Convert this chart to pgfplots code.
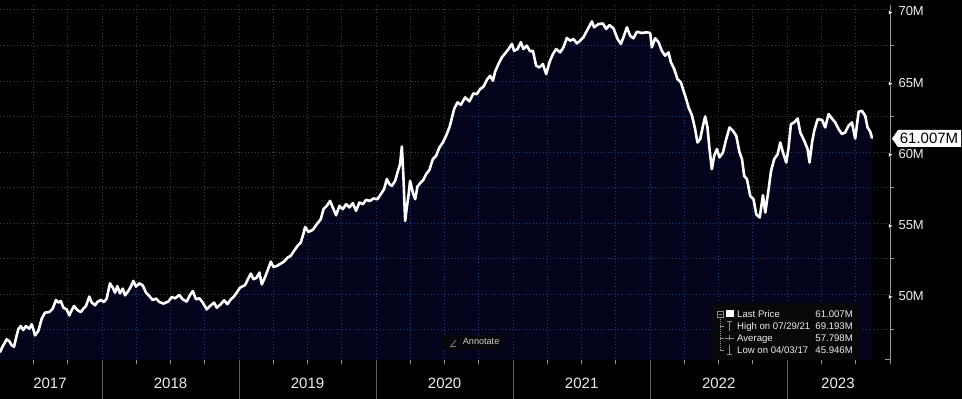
\documentclass[border=0pt]{standalone}
\usepackage{fontspec}
\setmainfont{Liberation Sans}
\usepackage{pgfplots}
\pgfplotsset{compat=1.18}
\usepackage{pgfplotstable}
\definecolor{navy}{RGB}{3,3,28}
\definecolor{gridgray}{RGB}{62,62,62}
\definecolor{gridblue}{RGB}{24,62,130}
\definecolor{axgray}{RGB}{150,150,150}
\definecolor{sepgray}{RGB}{95,95,95}
\definecolor{legbg}{RGB}{8,8,10}
\definecolor{txt}{RGB}{238,238,238}
\definecolor{icongray}{RGB}{140,140,140}
\definecolor{annotxt}{RGB}{205,205,210}
\definecolor{annoicon}{RGB}{110,120,150}

\pgfplotstableread{
t v
2017.256 45.95
2017.275 46.34
2017.304 46.83
2017.323 46.71
2017.341 46.41
2017.358 46.32
2017.372 46.90
2017.389 47.54
2017.407 47.77
2017.425 47.49
2017.445 47.77
2017.469 47.58
2017.487 47.89
2017.499 47.54
2017.511 47.11
2017.535 47.42
2017.560 48.29
2017.584 48.71
2017.615 48.75
2017.640 48.99
2017.664 49.60
2017.681 49.42
2017.699 49.53
2017.718 49.06
2017.742 48.94
2017.761 48.52
2017.779 48.89
2017.796 49.18
2017.820 48.89
2017.845 48.75
2017.864 48.99
2017.883 49.18
2017.907 49.84
2017.925 49.42
2017.949 49.23
2017.966 49.46
2017.991 49.60
2018.015 49.46
2018.034 49.70
2018.058 50.77
2018.078 50.47
2018.095 50.12
2018.112 50.58
2018.131 50.07
2018.151 50.40
2018.168 49.93
2018.192 50.23
2018.210 50.54
2018.229 50.94
2018.248 50.54
2018.272 50.77
2018.297 50.63
2018.321 50.12
2018.345 49.88
2018.370 49.60
2018.394 49.70
2018.418 49.46
2018.448 49.35
2018.484 49.49
2018.509 49.81
2018.533 49.72
2018.564 49.95
2018.589 49.65
2018.618 49.49
2018.642 49.95
2018.662 50.23
2018.686 49.65
2018.710 49.72
2018.735 49.42
2018.764 48.94
2018.788 49.18
2018.818 49.42
2018.837 49.06
2018.866 49.30
2018.891 49.58
2018.915 49.30
2018.940 49.65
2018.959 49.81
2018.983 50.12
2019.007 50.47
2019.044 50.65
2019.068 51.13
2019.086 51.46
2019.105 51.06
2019.129 51.18
2019.148 51.53
2019.166 50.70
2019.190 51.22
2019.214 51.83
2019.232 52.30
2019.251 51.92
2019.275 51.99
2019.304 52.16
2019.328 52.30
2019.353 52.58
2019.377 52.70
2019.401 53.05
2019.426 53.40
2019.450 53.64
2019.469 54.23
2019.482 54.74
2019.506 54.39
2019.538 54.53
2019.567 54.93
2019.596 55.28
2019.616 55.99
2019.640 56.22
2019.664 56.57
2019.689 55.99
2019.708 55.56
2019.732 56.22
2019.757 55.99
2019.781 56.34
2019.805 56.11
2019.830 56.41
2019.854 55.87
2019.878 56.46
2019.903 56.34
2019.927 56.64
2019.956 56.57
2019.980 56.74
2020.010 56.69
2020.034 57.04
2020.058 57.39
2020.078 58.10
2020.097 57.75
2020.115 57.63
2020.139 57.98
2020.156 58.57
2020.175 59.15
2020.188 60.40
2020.199 58.33
2020.212 55.16
2020.224 56.11
2020.236 56.92
2020.248 57.98
2020.268 57.16
2020.285 56.69
2020.302 57.58
2020.326 57.87
2020.345 58.05
2020.365 58.45
2020.389 58.75
2020.414 59.51
2020.438 59.74
2020.462 60.33
2020.487 60.68
2020.511 61.15
2020.535 61.74
2020.545 62.09
2020.569 63.03
2020.594 63.50
2020.618 63.33
2020.650 63.85
2020.681 63.57
2020.710 64.13
2020.735 64.08
2020.759 64.44
2020.783 64.60
2020.812 65.14
2020.832 65.37
2020.852 65.02
2020.869 65.68
2020.893 66.20
2020.918 66.67
2020.942 66.95
2020.966 67.25
2020.991 67.61
2021.007 67.13
2021.032 67.25
2021.056 67.73
2021.075 67.25
2021.100 67.49
2021.124 67.09
2021.144 67.13
2021.168 66.08
2021.192 65.96
2021.217 66.20
2021.241 65.49
2021.265 66.32
2021.290 66.90
2021.314 67.25
2021.343 67.02
2021.367 67.37
2021.392 68.03
2021.416 67.84
2021.440 67.96
2021.465 67.65
2021.489 67.84
2021.513 68.08
2021.538 68.54
2021.575 69.19
2021.591 68.78
2021.623 69.01
2021.655 69.05
2021.679 68.66
2021.703 68.94
2021.732 68.71
2021.762 67.96
2021.786 67.61
2021.805 68.08
2021.830 68.78
2021.854 68.19
2021.878 68.01
2021.903 68.47
2021.939 68.38
2021.976 68.43
2022.000 68.38
2022.012 67.37
2022.036 68.01
2022.061 67.73
2022.085 67.13
2022.109 66.78
2022.134 67.02
2022.151 66.32
2022.175 65.85
2022.199 65.14
2022.224 64.91
2022.243 64.32
2022.263 63.73
2022.280 63.15
2022.304 62.61
2022.328 61.62
2022.345 60.68
2022.365 60.92
2022.385 61.85
2022.401 62.51
2022.418 61.74
2022.433 60.21
2022.450 58.80
2022.467 59.74
2022.487 60.21
2022.506 59.63
2022.531 59.98
2022.555 60.92
2022.579 61.74
2022.604 61.50
2022.628 61.15
2022.652 59.98
2022.670 59.51
2022.686 58.33
2022.706 58.10
2022.730 56.92
2022.754 56.69
2022.774 55.63
2022.799 55.40
2022.823 56.97
2022.840 55.75
2022.864 57.39
2022.882 58.68
2022.905 59.51
2022.930 59.86
2022.949 60.68
2022.969 59.98
2022.993 59.27
2023.010 60.33
2023.027 61.97
2023.051 62.09
2023.076 62.37
2023.095 61.39
2023.124 60.80
2023.149 60.21
2023.163 59.27
2023.181 60.68
2023.197 61.50
2023.222 62.32
2023.254 62.27
2023.277 61.74
2023.302 62.68
2023.326 62.37
2023.350 62.09
2023.375 61.62
2023.399 61.27
2023.423 61.39
2023.447 61.85
2023.472 62.09
2023.496 60.96
2023.521 62.84
2023.545 62.91
2023.569 62.56
2023.586 61.74
2023.606 61.43
2023.618 61.01
}\pricedata

\tikzset{dotgrid/.style={line width=1pt, dash pattern=on 1pt off 2.4pt}}

\begin{document}
\begin{tikzpicture}[x=1pt,y=1pt]
\fill[black] (0,0) rectangle (962,399);
\useasboundingbox (0,0) rectangle (962,399);
\begin{axis}[
  at={(0pt,39pt)}, anchor=south west,
  scale only axis, width=890pt, height=355pt,
  xmin=2017.2555, xmax=2023.75, ymin=45.38, ymax=70.35,
  axis background/.style={fill=black},
  axis x line*=bottom, axis y line*=right,
  x axis line style={draw=none},
  y axis line style={draw=axgray, line width=1pt, -},
  tick align=outside,
  major tick length=0pt, minor tick length=4pt,
  xtick={2017.62,2018.5,2019.5,2020.5,2021.5,2022.5,2023.37},
  xticklabels={2017,2018,2019,2020,2021,2022,2023},
  minor xtick={2017.5,2017.75,2018,2018.25,2018.5,2018.75,2019,2019.25,2019.5,2019.75,2020,2020.25,2020.5,2020.75,2021,2021.25,2021.5,2021.75,2022,2022.25,2022.5,2022.75,2023,2023.25,2023.5,2023.75},
  ytick={50,55,60,65,70},
  yticklabel={\pgfmathprintnumber{\tick}M},
  minor ytick={47.5,52.5,57.5,62.5,67.5},
  xminorgrids, ymajorgrids, yminorgrids,
  grid style={gridgray, dotgrid},
  minor grid style={gridgray, dotgrid},
  every minor tick/.append style={axgray, line width=1pt},
  xticklabel style={font=\fontsize{15}{17}\selectfont, text=txt, yshift=-14pt},
  yticklabel style={font=\fontsize{13}{15}\selectfont, text=txt, anchor=west, xshift=5pt, yshift=-1.5pt},
  /pgf/number format/assume math mode=true,
]
\addplot[draw=none, fill=navy, path picture={
  \foreach \q in {2017.5,2017.75,2018,2018.25,2018.5,2018.75,2019,2019.25,2019.5,2019.75,2020,2020.25,2020.5,2020.75,2021,2021.25,2021.5,2021.75,2022,2022.25,2022.5,2022.75,2023,2023.25,2023.5}
    {\draw[path picture={}, fill=none, gridblue, dotgrid] (axis cs:\q,45) -- (axis cs:\q,71);}
  \foreach \w in {47.5,50,52.5,55,57.5,60,62.5,65,67.5,70}
    {\draw[path picture={}, fill=none, gridblue, dotgrid] (axis cs:2017,\w) -- (axis cs:2024,\w);}
}] table[x=t,y=v] {\pricedata} \closedcycle;
\addplot[white, line width=2.6pt, line join=round, line cap=round] table[x=t,y=v] {\pricedata};
\addplot[only marks, mark=triangle*, mark size=2.8pt,
  mark options={rotate=-90, fill=white, draw=none, xshift=2.6pt}]
  coordinates {(2023.75,50) (2023.75,55) (2023.75,60) (2023.75,65) (2023.75,70)};
\end{axis}
% year separators
\foreach \xx in {102.1,239.1,376.2,513.2,650.2,787.3}
  {\draw[sepgray, line width=1pt] (\xx,39) -- (\xx,0);}
\draw[axgray, line width=1pt] (885,39) -- (890.5,39);
% last price tag
\fill[white] (892,260.4) -- (898,269) -- (961,269) -- (961,252) -- (898,252) -- cycle;
\node[text=black, font=\fontsize{15}{17}\selectfont, inner sep=0pt] at (929,260.4) {61.007M};
% annotate
\fill[legbg] (443,49) rectangle (501,64);
\draw[annoicon, line width=0.8pt] (451,53) -- (456,59);
\draw[annoicon, line width=0.7pt] (450,53) -- (456,53);
\node[anchor=base west, inner sep=0pt, text=annotxt, font=\fontsize{9.1}{11}\selectfont] at (462.7,54) {Annotate};
% legend box
\fill[legbg] (711.7,39) rectangle (860,95.7);
\begin{scope}[font=\fontsize{9.6}{11}\selectfont]
\draw[icongray, line width=0.6pt] (717,82) rectangle (723,88);
\draw[icongray, line width=0.6pt] (718.5,85) -- (721.5,85);
\fill[white] (726,81.5) rectangle (733.5,89);
\draw[icongray, line width=0.6pt, dash pattern=on 1pt off 1pt] (720,82) -- (720,49);
\foreach \yy in {73,61,49} {\draw[icongray, line width=0.6pt] (720,\yy) -- (724,\yy);}
% high
\draw[icongray, line width=0.8pt] (727,78) -- (732,78) (729.5,78) -- (729.5,68);
% average
\draw[icongray, line width=0.8pt] (725,61) -- (734,61) (729.5,58.5) -- (729.5,63.5);
% low
\draw[icongray, line width=0.8pt] (729.5,54) -- (729.5,45) (727,45) -- (732,45);
\node[anchor=base west, inner sep=0pt, text=txt] at (737,81.6) {Last Price};
\node[anchor=base east, inner sep=0pt, text=txt] at (853,81.6) {61.007M};
\node[anchor=base west, inner sep=0pt, text=txt] at (737,69.6) {High on 07/29/21};
\node[anchor=base east, inner sep=0pt, text=txt] at (853,69.6) {69.193M};
\node[anchor=base west, inner sep=0pt, text=txt] at (737,57.6) {Average};
\node[anchor=base east, inner sep=0pt, text=txt] at (853,57.6) {57.798M};
\node[anchor=base west, inner sep=0pt, text=txt] at (737,45.6) {Low on 04/03/17};
\node[anchor=base east, inner sep=0pt, text=txt] at (853,45.6) {45.946M};
\end{scope}
\end{tikzpicture}
\end{document}
